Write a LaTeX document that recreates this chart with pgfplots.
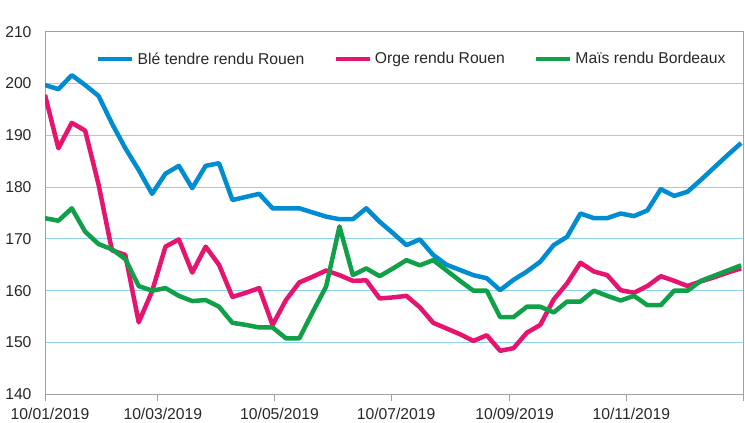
\documentclass[border=0pt]{standalone}
\usepackage{fontspec}
\setmainfont{Liberation Sans}
\usepackage{pgfplots}
\usepackage{pgfplotstable}
\pgfplotsset{compat=1.18}
\usetikzlibrary{calc}
\definecolor{cblue}{RGB}{0,140,208}
\definecolor{cpink}{RGB}{230,20,110}
\definecolor{cgreen}{RGB}{16,160,72}
\definecolor{cgrid}{RGB}{140,212,232}
\definecolor{caxis}{RGB}{160,160,160}
\definecolor{ctext}{RGB}{40,40,40}
\newcommand{\lf}{\fontsize{15.7bp}{18bp}\selectfont}
\pgfplotstableread{
d ble orge mais
0 199.7 197.8 174.0
7 198.9 187.5 173.5
14 201.6 192.4 175.9
21 199.7 190.9 171.4
28 197.6 180.5 169.0
35 192.3 167.8 168.0
42 187.5 166.9 166.1
49 183.3 153.9 160.9
56 178.7 159.9 160.0
63 182.6 168.5 160.5
70 184.1 169.9 159.0
77 179.8 163.5 158.0
84 184.1 168.5 158.2
91 184.6 165.0 156.9
98 177.5 158.8 153.8
105 178.1 159.6 153.4
112 178.7 160.5 152.9
119 175.9 153.4 152.9
126 175.9 158.2 150.8
133 175.9 161.6 150.8
140 175.1 162.7 155.9
147 174.3 163.9 160.8
154 173.8 163.0 172.4
161 173.8 161.9 163.0
168 175.9 162.0 164.3
175 173.3 158.5 162.8
182 171.1 158.7 164.3
189 168.8 159.0 165.9
196 169.9 156.8 164.9
203 166.9 153.8 165.9
210 165.0 152.7 163.9
217 164.0 151.6 161.9
224 163.0 150.3 160.0
231 162.4 151.4 160.0
238 160.1 148.4 154.9
245 162.1 148.9 154.9
252 163.7 151.9 156.9
259 165.6 153.4 156.9
266 168.8 158.3 155.8
273 170.4 161.4 157.9
280 174.9 165.4 157.9
287 174.0 163.7 160.0
294 174.0 163.0 159.0
301 174.9 160.1 158.1
308 174.4 159.6 159.0
315 175.5 160.9 157.2
322 179.6 162.8 157.2
329 178.3 161.9 160.0
336 179.1 160.9 160.0
343 181.4 161.8 161.9
350 183.8 162.6 162.9
357 186.2 163.5 163.9
364 188.5 164.3 164.9
}\data
\begin{document}
\begin{tikzpicture}
\begin{axis}[
  width=698bp, height=362.6bp, scale only axis,
  xmin=0, xmax=365, ymin=140, ymax=210,
  xtick={0,59,120,181,243,304,365},
  xticklabels={10/01/2019,10/03/2019,10/05/2019,10/07/2019,10/09/2019,10/11/2019,},
  ytick={140,150,...,210},
  /pgf/number format/assume math mode=true,
  ymajorgrids, grid style={cgrid, line width=1bp},
  axis line style={caxis, line width=1bp},
  xtick pos=bottom, ytick pos=left,
  tick align=outside,
  xtick style={caxis, line width=1bp},
  ytick style={draw=none},
  major tick length=7bp,
  tick label style={font=\lf, text=ctext},
  xticklabel style={xshift=5bp, yshift=-3bp},
  yticklabel style={xshift=-3bp},
  legend style={draw=none, fill=none, at={(rel axis cs:0,1)}, anchor=west,
    xshift=51bp, yshift=-27.3bp, inner sep=0pt, font=\lf, text=ctext,
    nodes={inner sep=3bp},
    /tikz/every even column/.append style={column sep=26bp}},
  legend columns=3,
  legend cell align=left,
  legend image code/.code={\draw[#1,line width=4.5bp] (0bp,0bp) -- (34bp,0bp);},
  every axis plot/.append style={line width=4.5bp, line join=round},
]
\addplot[cblue] table[x=d, y=ble] {\data};
\addlegendentry{Blé tendre rendu Rouen}
\addplot[cpink] table[x=d, y=orge] {\data};
\addlegendentry{Orge rendu Rouen}
\addplot[cgreen] table[x=d, y=mais] {\data};
\addlegendentry{Maïs rendu Bordeaux}
\node[anchor=base east, inner sep=0pt, font=\lf, text=ctext] at (rel axis cs:1,1) [yshift=5.7bp] {euro/tonne};
\end{axis}
\pgfresetboundingbox
\path[use as bounding box] ($(current axis.south west)+(-45bp,-28.7bp)$) rectangle ($(current axis.north east)+(2bp,31.7bp)$);
\end{tikzpicture}
\end{document}
